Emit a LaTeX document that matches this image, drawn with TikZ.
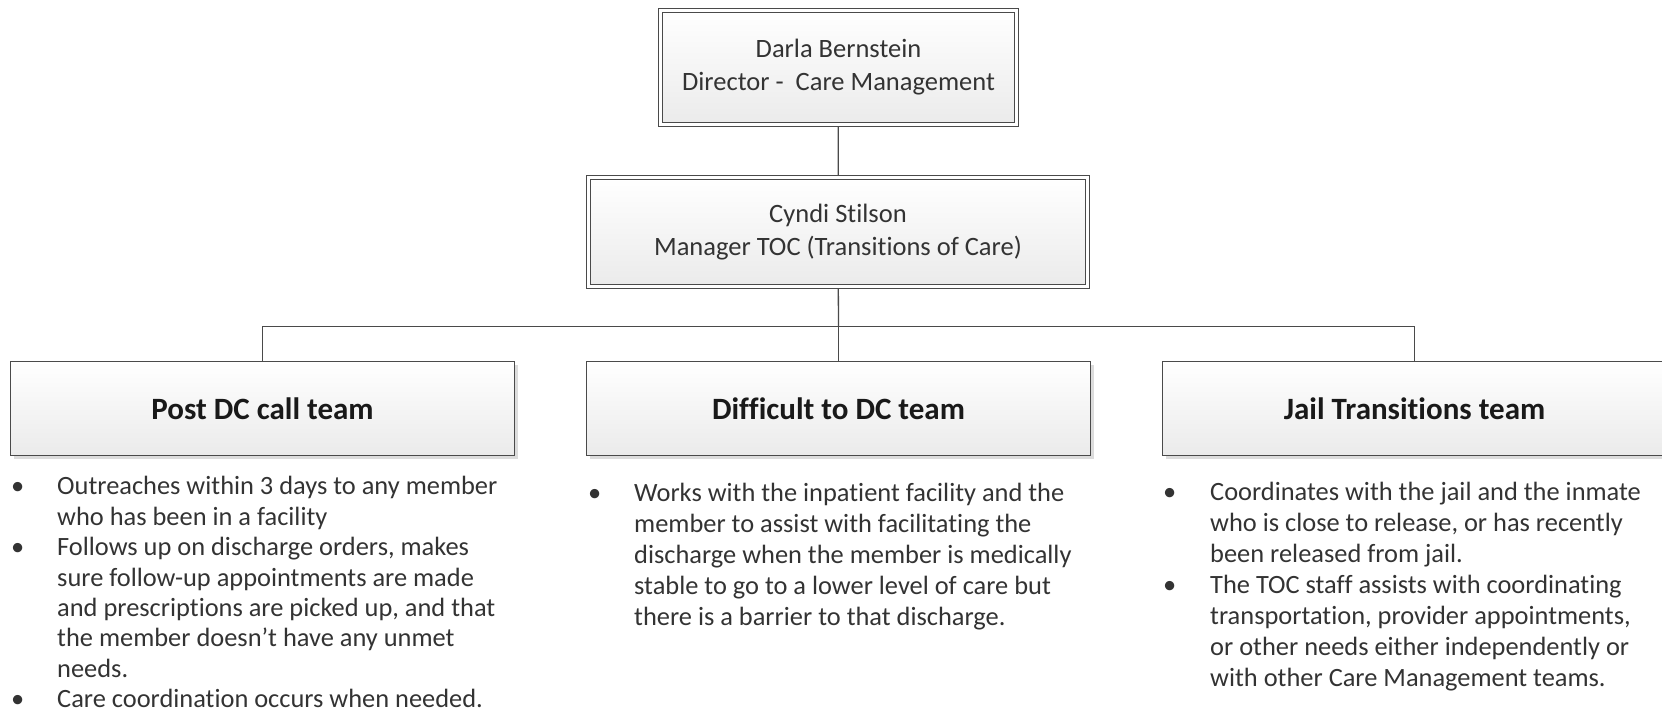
\documentclass[tikz,border=0pt]{standalone}
\usepackage{fontspec}
\setmainfont{Carlito}[Ligatures=NoCommon]
\usetikzlibrary{shadows,backgrounds}
\definecolor{edge}{HTML}{4A4A4A}
\definecolor{txt}{HTML}{333333}
\begin{document}
\begin{tikzpicture}[x=1pt,y=-1pt,
  box/.style={draw=edge, line width=1.3pt, top color=white, bottom color=black!8,
    drop shadow={shadow xshift=3pt, shadow yshift=-3pt, fill=black!30, opacity=0.45},
    inner sep=0pt, align=center, text=txt},
  dblbox/.style={box, line width=1.2pt, double=white, double distance=3pt,
    font=\fontsize{26.5}{33}\selectfont},
  teambox/.style={box, minimum width=504pt, minimum height=94pt,
    font=\bfseries\fontsize{31}{34}\selectfont, text=black!90},
  listtext/.style={inner sep=0pt, anchor=north west, text=txt,
    font=\fontsize{26.4}{31}\selectfont},
  conn/.style={draw=edge, line width=1.3pt}
]
\useasboundingbox (0,0) rectangle (1662,715);
\clip (0,0) rectangle (1662,715);

\node[dblbox, minimum width=355.6pt, minimum height=113.6pt] (dir) at (838.5,67.5)
  {Darla Bernstein\\Director -\ \ Care Management};
\node[dblbox, minimum width=498.6pt, minimum height=108.6pt] (mgr) at (838,232)
  {Cyndi Stilson\\Manager TOC (Transitions of Care)};

\node[teambox] (post) at (262.5,408.5) {Post DC call team};
\node[teambox] (diff) at (838.5,408.5) {Difficult to DC team};
\node[teambox] (jail) at (1414.5,408.5) {Jail Transitions team};

\coordinate (bus) at (838.5,326.5);
\begin{pgfonlayer}{background}
  \draw[conn] (dir) -- (mgr);
  \draw[conn] (mgr) -- (bus);
  \draw[conn] (post.north) |- (bus) -| (jail.north);
  \draw[conn] (diff.north) -- (bus);
\end{pgfonlayer}

\node[listtext, font=\fontsize{26.4}{30.4}\selectfont] (postlist) at (11,473.5) {\begin{tabular}{@{}p{46pt}@{}l@{}}
\textbullet & Outreaches within 3 days to any member\\
 & who has been in a facility\\
\textbullet & Follows up on discharge orders, makes\\
 & sure follow-up appointments are made\\
 & and prescriptions are picked up, and that\\
 & the member doesn’t have any unmet\\
 & needs.\\
\textbullet & Care coordination occurs when needed.
\end{tabular}};

\node[listtext] (difflist) at (588,480) {\begin{tabular}{@{}p{46pt}@{}l@{}}
\textbullet & Works with the inpatient facility and the\\
 & member to assist with facilitating the\\
 & discharge when the member is medically\\
 & stable to go to a lower level of care but\\
 & there is a barrier to that discharge.
\end{tabular}};

\node[listtext] (jaillist) at (1163,479) {\begin{tabular}{@{}p{47pt}@{}l@{}}
\textbullet & Coordinates with the jail and the inmate\\
 & who is close to release, or has recently\\
 & been released from jail.\\
\textbullet & The TOC staff assists with coordinating\\
 & transportation, provider appointments,\\
 & or other needs either independently or\\
 & with other Care Management teams.
\end{tabular}};
\end{tikzpicture}
\end{document}
